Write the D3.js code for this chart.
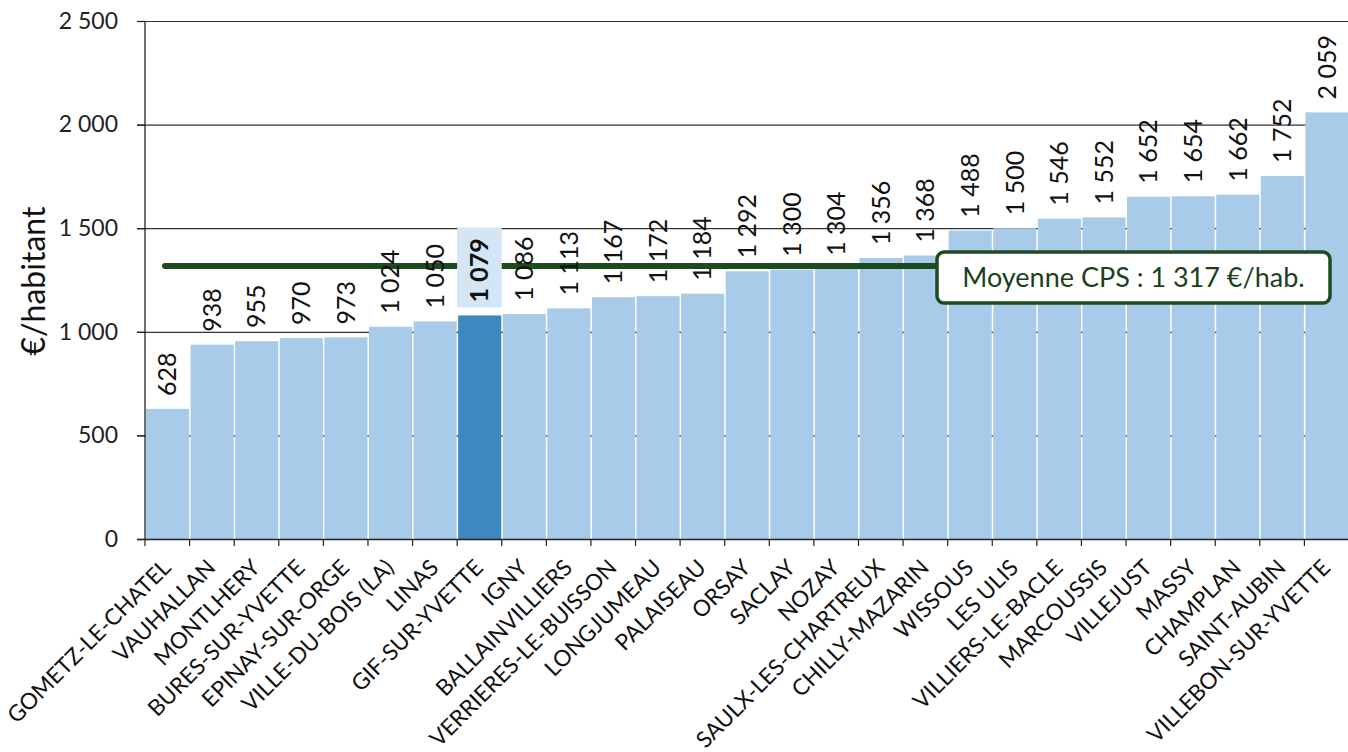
<!DOCTYPE html>
<html>
<head>
<meta charset="utf-8">
<script src="https://cdn.jsdelivr.net/npm/d3@7"></script>
<style>
  html, body { margin: 0; padding: 0; background: #fff; }
  svg { display: block; font-family: Lato, "Open Sans", sans-serif; }
</style>
</head>
<body>
<svg id="chart" width="1348" height="752"></svg>
<script>
// Communes, sorted by spending per inhabitant
const communes = [
  "GOMETZ-LE-CHATEL", "VAUHALLAN", "MONTLHERY", "BURES-SUR-YVETTE", "EPINAY-SUR-ORGE",
  "VILLE-DU-BOIS (LA)", "LINAS", "GIF-SUR-YVETTE", "IGNY", "BALLAINVILLIERS",
  "VERRIERES-LE-BUISSON", "LONGJUMEAU", "PALAISEAU", "ORSAY", "SACLAY", "NOZAY",
  "SAULX-LES-CHARTREUX", "CHILLY-MAZARIN", "WISSOUS", "LES ULIS", "VILLIERS-LE-BACLE",
  "MARCOUSSIS", "VILLEJUST", "MASSY", "CHAMPLAN", "SAINT-AUBIN", "VILLEBON-SUR-YVETTE"
];
const eurosParHabitant = [
  628, 938, 955, 970, 973, 1024, 1050, 1079, 1086, 1113, 1167, 1172, 1184, 1292,
  1300, 1304, 1356, 1368, 1488, 1500, 1546, 1552, 1652, 1654, 1662, 1752, 2059
];
const yTicks = [0, 500, 1000, 1500, 2000, 2500];
const highlighted = "GIF-SUR-YVETTE";
const moyenneCPS = 1317;
const yTitle = "€/habitant";
const meanLabel = "Moyenne CPS : 1 317 €/hab.";

const data = communes.map((c, i) => ({ name: c, value: eurosParHabitant[i] }));

const fr = d3.formatLocale({ decimal: ",", thousands: "\u00a0", grouping: [3], currency: ["", " €"] });
const fmt = fr.format(",d");

const svg = d3.select("#chart");
const plotLeft = 145, plotRight = 1349, plotTop = 21, plotBottom = 539;

const x = d3.scaleBand().domain(communes).range([plotLeft, plotRight]).padding(0);
const y = d3.scaleLinear().domain([0, 2500]).range([plotBottom, plotTop]);

const lightBlue = "#a8cbe9";
const darkBlue = "#3d88c1";
const paleBlue = "#d4e6f6";
const green = "#1e4b1e";

// Horizontal gridlines (behind the bars)
svg.append("g")
  .selectAll("line")
  .data(yTicks.filter(t => t > 0))
  .join("line")
  .attr("x1", plotLeft - 8).attr("x2", plotRight)
  .attr("y1", d => y(d) + 0.5).attr("y2", d => y(d) + 0.5)
  .attr("stroke", "#333").attr("stroke-width", 1.2);

// Bars
svg.append("g")
  .selectAll("rect")
  .data(data)
  .join("rect")
  .attr("x", d => x(d.name) + 1)
  .attr("width", x.bandwidth() - 1.5)
  .attr("y", d => y(d.value))
  .attr("height", d => y(0) - y(d.value))
  .attr("fill", d => d.name === highlighted ? darkBlue : lightBlue);

// Mean line
const yMean = y(moyenneCPS);
const boxX = 937, boxW = 393, boxH = 51;
svg.append("line")
  .attr("x1", x(communes[0]) + 20).attr("x2", boxX + 4)
  .attr("y1", yMean).attr("y2", yMean)
  .attr("stroke", green).attr("stroke-width", 6).attr("stroke-linecap", "round");

// Pale background behind the highlighted commune's label
const hl = data.find(d => d.name === highlighted);
svg.append("rect")
  .attr("x", x(hl.name)).attr("width", x.bandwidth())
  .attr("y", y(hl.value) - 88).attr("height", 80)
  .attr("fill", paleBlue);

// Value labels, rotated
svg.append("g")
  .selectAll("text")
  .data(data)
  .join("text")
  .attr("transform", d => `translate(${x(d.name) + x.bandwidth() / 2},${y(d.value) - 13}) rotate(-90)`)
  .attr("dy", "0.36em")
  .attr("font-size", 25)
  .attr("font-weight", d => d.name === highlighted ? 700 : 400)
  .attr("fill", "#111")
  .text(d => fmt(d.value));

// Mean callout
const callout = svg.append("g").attr("transform", `translate(${boxX},${yMean - 14})`);
callout.append("rect")
  .attr("width", boxW).attr("height", boxH).attr("rx", 7)
  .attr("fill", "#fff").attr("stroke", green).attr("stroke-width", 3.5);
callout.append("text")
  .attr("x", boxW / 2).attr("y", boxH / 2).attr("dy", "0.36em")
  .attr("text-anchor", "middle").attr("font-size", 27).attr("fill", "#1c3f1c")
  .text(meanLabel);

// Y axis
const yAxis = svg.append("g").attr("transform", `translate(${plotLeft},0)`)
  .call(d3.axisLeft(y).tickValues(yTicks).tickFormat(fmt).tickSize(8).tickPadding(19));
yAxis.select(".domain").attr("stroke", "#222").attr("stroke-width", 1.3).attr("d", `M0,${plotTop}V${plotBottom}`);
yAxis.selectAll(".tick line").attr("stroke", "#222").attr("stroke-width", 1.2);
yAxis.selectAll(".tick text").attr("font-size", 23).attr("fill", "#222").attr("font-family", "Lato, sans-serif");

// X axis: baseline with ticks at band boundaries
const xAxisG = svg.append("g");
xAxisG.append("line")
  .attr("x1", plotLeft - 8).attr("x2", plotRight).attr("y1", plotBottom + 0.5).attr("y2", plotBottom + 0.5)
  .attr("stroke", "#222").attr("stroke-width", 1.3);
xAxisG.selectAll("line.tick")
  .data(communes.map(c => x(c)).concat([plotRight]))
  .join("line").attr("class", "tick")
  .attr("x1", d => d).attr("x2", d => d)
  .attr("y1", plotBottom).attr("y2", plotBottom + 7)
  .attr("stroke", "#222").attr("stroke-width", 1.2);
xAxisG.selectAll("text")
  .data(communes)
  .join("text")
  .attr("transform", c => `translate(${x(c) + x.bandwidth() / 2 + 5},${plotBottom + 30}) rotate(-45)`)
  .attr("text-anchor", "end")
  .attr("font-size", 22.5)
  .attr("fill", "#111")
  .text(c => c);

// Y axis title
svg.append("text")
  .attr("transform", `translate(34,${(plotTop + plotBottom) / 2 + 1}) rotate(-90)`)
  .attr("text-anchor", "middle").attr("dy", "0.35em")
  .attr("font-size", 32).attr("fill", "#111")
  .text(yTitle);
</script>
</body>
</html>
